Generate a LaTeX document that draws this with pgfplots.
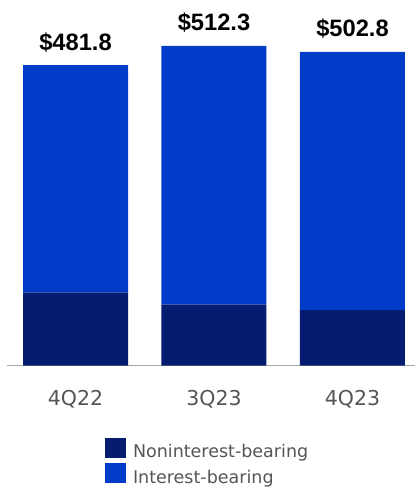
\documentclass[border=0pt]{standalone}
\usepackage{pgfplots}
\pgfplotsset{compat=1.18}
\usepackage{fontspec}
\setmainfont{DejaVu Sans}
\newfontfamily\valfont{Liberation Sans}
\definecolor{navy}{RGB}{6,28,112}
\definecolor{bblue}{RGB}{0,60,200}
\definecolor{txtgray}{RGB}{85,85,85}
\begin{document}
\begin{tikzpicture}
\path[use as bounding box] (0,0) rectangle (415pt,491pt);
\begin{axis}[
  at={(7pt,125.3pt)}, anchor=south west,
  scale only axis,
  width=408pt, height=365.7pt,
  xmin=-0.4946, xmax=2.4513,
  ymin=0, ymax=586,
  ybar stacked,
  bar width=105pt,
  axis x line*=bottom,
  axis y line=none,
  x axis line style={draw=gray!70, line width=0.8pt},
  xtick={0,1,2},
  xticklabels={4Q22,3Q23,4Q23},
  major tick length=0pt,
  xticklabel style={font=\fontsize{20.5}{24}\selectfont, text=txtgray, anchor=base, inner sep=0pt, yshift=-40pt},
  ytick=\empty,
  legend cell align=left,
  legend style={at={(0.2402,-0.1977)}, anchor=north west, draw=none, fill=none,
    inner sep=0pt, outer sep=0pt, row sep=4pt,
    font=\fontsize{17.5}{20}\selectfont, text=txtgray,
    nodes={inner sep=0pt, anchor=base west},
    /tikz/every odd column/.append style={column sep=7pt}},
  legend image code/.code={\fill[#1] (0pt,0pt) rectangle (21pt,20pt);},
]
\addplot[fill=navy, draw=none] coordinates {(0,117.0) (1,97.7) (2,89.2)};
\addlegendentry{Noninterest-bearing}
\addplot[fill=bblue, draw=none] coordinates {(0,364.8) (1,414.6) (2,413.6)};
\addlegendentry{Interest-bearing}
\end{axis}
\begin{axis}[
  at={(7pt,125.3pt)}, anchor=south west,
  scale only axis,
  width=408pt, height=365.7pt,
  xmin=-0.4946, xmax=2.4513,
  ymin=0, ymax=586,
  hide axis,
]
\addplot[only marks, mark=none, draw=none,
  point meta=explicit symbolic,
  nodes near coords,
  every node near coord/.append style={font=\valfont\bfseries\fontsize{23.7}{26}\selectfont, text=black, anchor=base, yshift=15pt, inner sep=0pt}
] coordinates {(0,481.8) [\$481.8] (1,512.3) [\$512.3] (2,502.8) [\$502.8]};
\end{axis}
\end{tikzpicture}
\end{document}
